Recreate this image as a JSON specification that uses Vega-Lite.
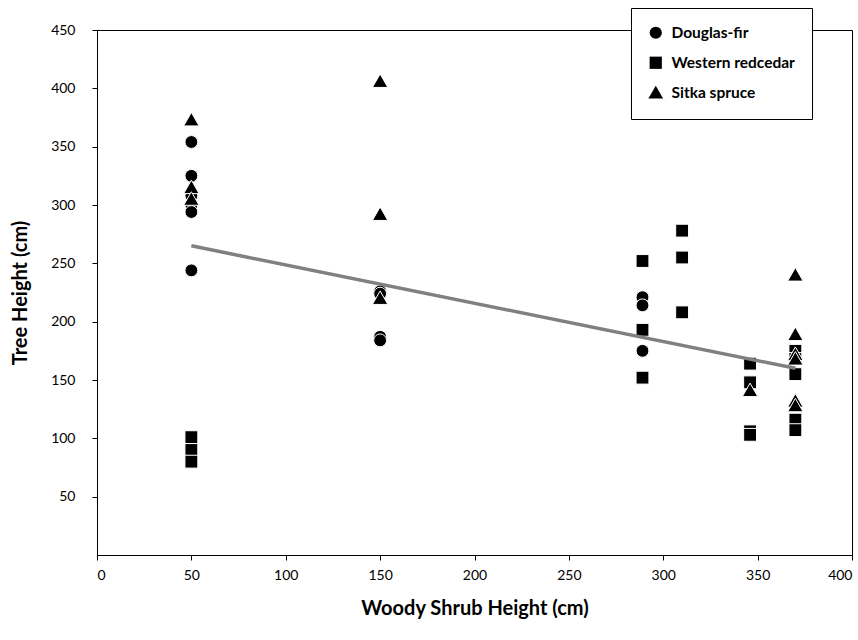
{
  "$schema": "https://vega.github.io/schema/vega-lite/v6.json",
  "width": 755,
  "height": 525,
  "autosize": {"type": "none"},
  "padding": {"left": 97, "top": 30, "right": 6, "bottom": 85},
  "background": "white",
  "config": {
    "font": "Lato",
    "view": {"stroke": "#000000", "strokeWidth": 1},
    "axis": {
      "grid": false,
      "domainColor": "#000000",
      "tickColor": "#000000",
      "tickSize": 5,
      "labelFont": "Lato",
      "labelFontSize": 14,
      "labelColor": "#000000",
      "titleFont": "Lato",
      "titleFontSize": 20,
      "titleFontWeight": "bold",
      "titleColor": "#000000"
    },
    "legend": {
      "orient": "none",
      "legendX": 534,
      "legendY": -22,
      "padding": 17,
      "strokeColor": "#000000",
      "fillColor": "#ffffff",
      "labelFont": "Lato",
      "labelFontSize": 15.5,
      "labelFontWeight": "bold",
      "labelColor": "#000000",
      "symbolFillColor": "#000000",
      "symbolStrokeColor": "#000000",
      "symbolStrokeWidth": 0,
      "symbolSize": 150,
      "rowPadding": 13,
      "labelOffset": 8
    }
  },
  "datasets": {
    "pts": [
      {"shrub": 50, "tree": 354, "species": "Douglas-fir"},
      {"shrub": 50, "tree": 325, "species": "Douglas-fir"},
      {"shrub": 50, "tree": 308, "species": "Douglas-fir"},
      {"shrub": 50, "tree": 300, "species": "Douglas-fir"},
      {"shrub": 50, "tree": 294, "species": "Douglas-fir"},
      {"shrub": 50, "tree": 244, "species": "Douglas-fir"},
      {"shrub": 150, "tree": 226, "species": "Douglas-fir"},
      {"shrub": 150, "tree": 224, "species": "Douglas-fir"},
      {"shrub": 150, "tree": 187, "species": "Douglas-fir"},
      {"shrub": 150, "tree": 184, "species": "Douglas-fir"},
      {"shrub": 289, "tree": 221, "species": "Douglas-fir"},
      {"shrub": 289, "tree": 214, "species": "Douglas-fir"},
      {"shrub": 289, "tree": 175, "species": "Douglas-fir"},
      {"shrub": 50, "tree": 101, "species": "Western redcedar"},
      {"shrub": 50, "tree": 90, "species": "Western redcedar"},
      {"shrub": 50, "tree": 80, "species": "Western redcedar"},
      {"shrub": 289, "tree": 252, "species": "Western redcedar"},
      {"shrub": 289, "tree": 193, "species": "Western redcedar"},
      {"shrub": 289, "tree": 152, "species": "Western redcedar"},
      {"shrub": 310, "tree": 278, "species": "Western redcedar"},
      {"shrub": 310, "tree": 255, "species": "Western redcedar"},
      {"shrub": 310, "tree": 208, "species": "Western redcedar"},
      {"shrub": 346, "tree": 164, "species": "Western redcedar"},
      {"shrub": 346, "tree": 148, "species": "Western redcedar"},
      {"shrub": 346, "tree": 106, "species": "Western redcedar"},
      {"shrub": 346, "tree": 103, "species": "Western redcedar"},
      {"shrub": 370, "tree": 175, "species": "Western redcedar"},
      {"shrub": 370, "tree": 168, "species": "Western redcedar"},
      {"shrub": 370, "tree": 155, "species": "Western redcedar"},
      {"shrub": 370, "tree": 116, "species": "Western redcedar"},
      {"shrub": 370, "tree": 107, "species": "Western redcedar"},
      {"shrub": 50, "tree": 373, "species": "Sitka spruce"},
      {"shrub": 50, "tree": 315, "species": "Sitka spruce"},
      {"shrub": 50, "tree": 305, "species": "Sitka spruce"},
      {"shrub": 150, "tree": 406, "species": "Sitka spruce"},
      {"shrub": 150, "tree": 292, "species": "Sitka spruce"},
      {"shrub": 150, "tree": 220, "species": "Sitka spruce"},
      {"shrub": 346, "tree": 141, "species": "Sitka spruce"},
      {"shrub": 370, "tree": 240, "species": "Sitka spruce"},
      {"shrub": 370, "tree": 189, "species": "Sitka spruce"},
      {"shrub": 370, "tree": 172, "species": "Sitka spruce"},
      {"shrub": 370, "tree": 168, "species": "Sitka spruce"},
      {"shrub": 370, "tree": 132, "species": "Sitka spruce"},
      {"shrub": 370, "tree": 128, "species": "Sitka spruce"}
    ],
    "trend": [
      {"shrub": 50, "tree": 265},
      {"shrub": 370, "tree": 160}
    ]
  },
  "layer": [
    {
      "data": {"name": "pts"},
      "mark": {"type": "point", "filled": true, "color": "#000000", "stroke": "#ffffff", "strokeWidth": 1, "opacity": 1, "size": 165},
      "encoding": {
        "x": {
          "field": "shrub", "type": "quantitative",
          "scale": {"domain": [0, 400], "nice": false, "zero": true},
          "axis": {"values": [0, 50, 100, 150, 200, 250, 300, 350, 400], "title": "Woody Shrub Height (cm)", "labelPadding": 8, "titlePadding": 16}
        },
        "y": {
          "field": "tree", "type": "quantitative",
          "scale": {"domain": [0, 450], "nice": false},
          "axis": {"values": [50, 100, 150, 200, 250, 300, 350, 400, 450], "title": "Tree Height (cm)", "labelPadding": 17, "titlePadding": 20}
        },
        "shape": {
          "field": "species", "type": "nominal",
          "scale": {"domain": ["Douglas-fir", "Western redcedar", "Sitka spruce"], "range": ["circle", "square", "M0,-1.15L1.2,0.95L-1.2,0.95Z"]},
          "legend": {"title": null}
        }
      }
    },
    {
      "data": {"name": "trend"},
      "mark": {"type": "line", "color": "#808080", "strokeWidth": 3.5},
      "encoding": {
        "x": {"field": "shrub", "type": "quantitative"},
        "y": {"field": "tree", "type": "quantitative"}
      }
    }
  ]
}
